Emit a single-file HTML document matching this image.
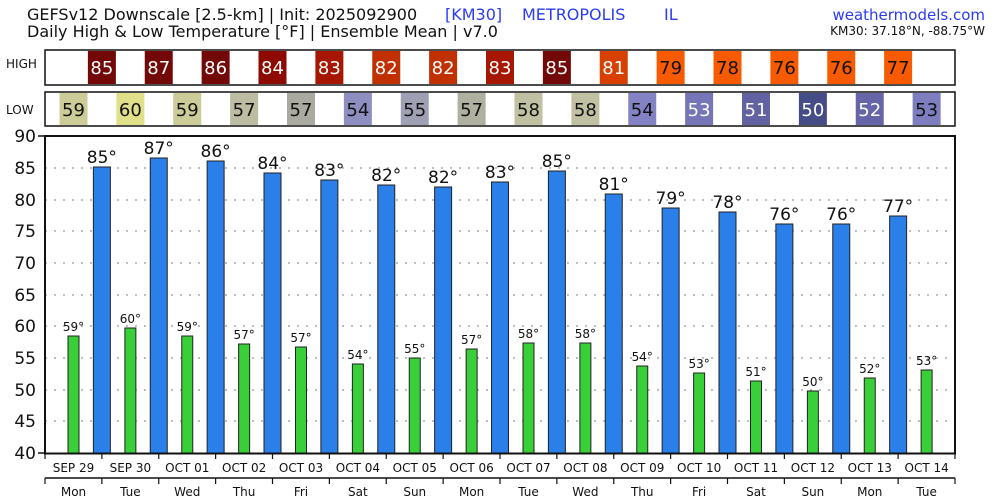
<!DOCTYPE html>
<html><head><style>body{margin:0;background:#fff}svg{display:block;font-family:"DejaVu Sans","Liberation Sans",sans-serif}</style></head><body>
<svg width="1000" height="500" xmlns="http://www.w3.org/2000/svg">
<text x="27" y="20" font-size="16" fill="#111">GEFSv12 Downscale [2.5-km] | Init: 2025092900</text>
<text x="27" y="37" font-size="16" fill="#111">Daily High &amp; Low Temperature [°F] | Ensemble Mean | v7.0</text>
<text x="445" y="20" font-size="16" fill="#2a3cf0">[KM30]</text>
<text x="522" y="20" font-size="16" fill="#2a3cf0">METROPOLIS</text>
<text x="664" y="20" font-size="16" fill="#2a3cf0">IL</text>
<text x="985" y="20" font-size="15" fill="#2a3cf0" text-anchor="end">weathermodels.com</text>
<text x="985" y="35" font-size="12" fill="#111" text-anchor="end">KM30: 37.18°N, -88.75°W</text>
<text x="6" y="68" font-size="12" fill="#111">HIGH</text>
<text x="6" y="114" font-size="12" fill="#111">LOW</text>
<g id="g"></g>
<g stroke="#999" stroke-dasharray="2,7" stroke-width="1.2">
<line x1="45" x2="955" y1="168" y2="168"/><line x1="45" x2="955" y1="200" y2="200"/><line x1="45" x2="955" y1="231" y2="231"/><line x1="45" x2="955" y1="263" y2="263"/><line x1="45" x2="955" y1="295" y2="295"/><line x1="45" x2="955" y1="326" y2="326"/><line x1="45" x2="955" y1="358" y2="358"/><line x1="45" x2="955" y1="390" y2="390"/><line x1="45" x2="955" y1="421" y2="421"/>
</g>
<g font-size="17" fill="#111" text-anchor="end">
<text x="36" y="142">90</text><text x="36" y="174">85</text><text x="36" y="206">80</text><text x="36" y="237">75</text><text x="36" y="269">70</text><text x="36" y="301">65</text><text x="36" y="332">60</text><text x="36" y="364">55</text><text x="36" y="396">50</text><text x="36" y="427">45</text><text x="36" y="459">40</text>
</g>
<g id="bars"></g>
<rect x="45" y="136" width="910" height="317.5" fill="none" stroke="#111" stroke-width="2"/>
<g stroke="#111" stroke-width="1.5"><line x1="38" x2="45" y1="136" y2="136"/><line x1="38" x2="45" y1="453" y2="453"/><line x1="45" x2="955" y1="478" y2="478"/></g>
</svg>
<script>
const ns="http://www.w3.org/2000/svg",svg=document.querySelector('svg');
function el(t,a,txt,p){const e=document.createElementNS(ns,t);for(const k in a)e.setAttribute(k,a[k]);if(txt!=null)e.textContent=txt;(p||svg).appendChild(e);return e;}
const g=document.getElementById('g'),B=document.getElementById('bars');
const W=56.875;
const hi=[null,85,87,86,84,83,82,82,83,85,81,79,78,76,76,77];
const hiY=[0,167,158,161,173,180,185,187,182,171,194,208,212,224,224,216];
const hiC={85:'#730808',87:'#730808',86:'#730808',84:'#8e0a00',83:'#a61600',82:'#c03000',81:'#d84000',79:'#f85a00',78:'#f85a00',76:'#f85a00',77:'#f85a00'};
const lo=[59,60,59,57,57,54,55,57,58,58,54,53,51,50,52,53];
const loY=[336,328,336,344,347,364,358,349,343,343,366,373,381,391,378,370];
const loC=['#cccc99','#e0e08a','#cccc99','#bcbca2','#aaaaa0','#8e8ec0','#a0a0b4','#b0b0a0','#c0c0a2','#c0c0a2','#8282c4','#7575b8','#6262a2','#454c88','#6565a8','#7d7dc0'];
const loTxt=[1,1,1,1,1,1,1,1,1,1,1,0,0,0,0,1];
el('rect',{x:45,y:50,width:910,height:35,fill:'#fff',stroke:'#111','stroke-width':1.5},null,g);
el('rect',{x:45,y:92,width:910,height:34,fill:'#fff',stroke:'#111','stroke-width':1.5},null,g);
const dates=['SEP 29','SEP 30','OCT 01','OCT 02','OCT 03','OCT 04','OCT 05','OCT 06','OCT 07','OCT 08','OCT 09','OCT 10','OCT 11','OCT 12','OCT 13','OCT 14'];
const days=['Mon','Tue','Wed','Thu','Fri','Sat','Sun','Mon','Tue','Wed','Thu','Fri','Sat','Sun','Mon','Tue'];
for(let i=0;i<16;i++){
 const s=45+W*i, lc=s+28.5;
 el('rect',{x:lc-14,y:93,width:28,height:32,fill:loC[i]},null,g);
 el('text',{x:lc,y:116,'font-size':18,fill:loTxt[i]?'#111':'#fff','text-anchor':'middle'},lo[i],g);
 el('rect',{x:lc-5.5,y:loY[i],width:11,height:453-loY[i],fill:'#38cf38',stroke:'#222','stroke-width':1},null,B);
 el('text',{x:lc,y:loY[i]-5,'font-size':12,fill:'#111','text-anchor':'middle'},lo[i]+'°',B);
 if(hi[i]!=null){
  const hc=s;
  el('rect',{x:hc-14,y:51,width:28,height:33,fill:hiC[hi[i]]},null,g);
  el('text',{x:hc,y:74,'font-size':18,fill:hi[i]<80?'#111':'#fff','text-anchor':'middle'},hi[i],g);
  el('rect',{x:hc-8.5,y:hiY[i],width:17,height:453-hiY[i],fill:'#2a7fe8',stroke:'#222','stroke-width':1},null,B);
  el('text',{x:hc,y:hiY[i]-4,'font-size':17,fill:'#111','text-anchor':'middle'},hi[i]+'°',B);
 }
 el('line',{x1:s,x2:s,y1:453,y2:459,stroke:'#111','stroke-width':1.2});
 el('line',{x1:s,x2:s,y1:478,y2:484,stroke:'#111','stroke-width':1.2});
 el('text',{x:lc,y:472,'font-size':12,fill:'#111','text-anchor':'middle'},dates[i]);
 el('text',{x:lc,y:496,'font-size':12,fill:'#111','text-anchor':'middle'},days[i]);
}
el('line',{x1:955,x2:955,y1:453,y2:459,stroke:'#111','stroke-width':1.2});
el('line',{x1:955,x2:955,y1:478,y2:484,stroke:'#111','stroke-width':1.2});
</script>
</body></html>
